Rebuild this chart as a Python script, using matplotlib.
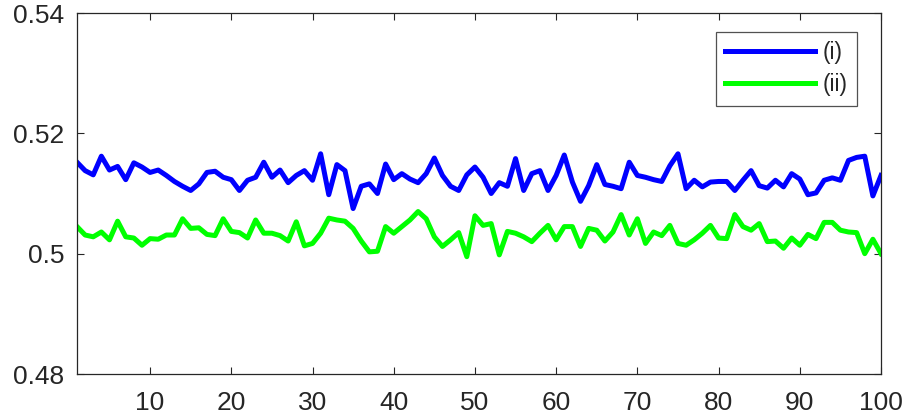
import matplotlib
matplotlib.use("Agg")
import matplotlib.pyplot as plt
import numpy as np

x = list(range(1, 101))
series_i = [
    0.5152, 0.5138, 0.5131, 0.5162, 0.5139, 0.5145, 0.5123, 0.5151, 0.5144, 0.5135,
    0.5139, 0.5130, 0.5120, 0.5112, 0.5105, 0.5116, 0.5135, 0.5137, 0.5127, 0.5123,
    0.5105, 0.5122, 0.5127, 0.5152, 0.5127, 0.5139, 0.5118, 0.5130, 0.5138, 0.5122,
    0.5166, 0.5098, 0.5148, 0.5138, 0.5075, 0.5112, 0.5116, 0.5100, 0.5149, 0.5123,
    0.5133, 0.5124, 0.5118, 0.5133, 0.5159, 0.5130, 0.5112, 0.5105, 0.5131, 0.5144,
    0.5127, 0.5100, 0.5118, 0.5112, 0.5158, 0.5105, 0.5133, 0.5138, 0.5105, 0.5130,
    0.5164, 0.5119, 0.5087, 0.5113, 0.5148, 0.5115, 0.5112, 0.5108, 0.5152, 0.5130,
    0.5127, 0.5123, 0.5120, 0.5146, 0.5166, 0.5108, 0.5122, 0.5111, 0.5119, 0.5120,
    0.5120, 0.5105, 0.5122, 0.5138, 0.5113, 0.5109, 0.5122, 0.5111, 0.5133, 0.5124,
    0.5098, 0.5101, 0.5122, 0.5126, 0.5122, 0.5155, 0.5160, 0.5162, 0.5096, 0.5130,
]
series_ii = [
    0.5045, 0.5031, 0.5028, 0.5036, 0.5023, 0.5054, 0.5028, 0.5026, 0.5014, 0.5025,
    0.5024, 0.5031, 0.5031, 0.5058, 0.5042, 0.5043, 0.5032, 0.5030, 0.5058, 0.5037,
    0.5035, 0.5026, 0.5056, 0.5034, 0.5034, 0.5030, 0.5021, 0.5053, 0.5013, 0.5017,
    0.5034, 0.5059, 0.5056, 0.5054, 0.5042, 0.5021, 0.5003, 0.5004, 0.5045, 0.5034,
    0.5045, 0.5056, 0.5070, 0.5058, 0.5028, 0.5012, 0.5023, 0.5035, 0.4995, 0.5063,
    0.5047, 0.5050, 0.4998, 0.5037, 0.5034, 0.5028, 0.5020, 0.5034, 0.5047, 0.5023,
    0.5045, 0.5045, 0.5012, 0.5042, 0.5039, 0.5021, 0.5036, 0.5065, 0.5031, 0.5058,
    0.5017, 0.5036, 0.5030, 0.5047, 0.5017, 0.5014, 0.5023, 0.5034, 0.5047, 0.5026,
    0.5025, 0.5065, 0.5045, 0.5039, 0.5050, 0.5020, 0.5021, 0.5009, 0.5026, 0.5014,
    0.5032, 0.5025, 0.5052, 0.5052, 0.5039, 0.5036, 0.5035, 0.5000, 0.5024, 0.5000,
]
labels = ["(i)", "(ii)"]
xticks = [10, 20, 30, 40, 50, 60, 70, 80, 90, 100]
yticks = [0.48, 0.50, 0.52, 0.54]
ytick_labels = ["0.48", "0.5", "0.52", "0.54"]

plt.rcParams['font.family'] = ['Liberation Sans', 'DejaVu Sans']
fig = plt.figure(figsize=(9.08, 4.18), dpi=100)
ax = fig.add_axes([77/908, 44/418, (881-77)/908, (374-13)/418])

ax.plot(x, series_i, color=(0, 0, 1), lw=3.6, label=labels[0])
ax.plot(x, series_ii, color=(0, 1, 0), lw=3.6, label=labels[1])

ax.set_xlim(1, 100)
ax.set_ylim(0.48, 0.54)
ax.set_xticks(xticks)
ax.set_xticklabels([str(t) for t in xticks])
ax.set_yticks(yticks)
ax.set_yticklabels(ytick_labels)

sc = (0.15, 0.15, 0.15)
for s in ax.spines.values():
    s.set_color(sc)
    s.set_linewidth(0.9)
ax.tick_params(direction='in', top=True, right=True, length=5, width=0.8,
               color=sc, labelcolor=sc, labelsize=19)
ax.tick_params(axis='x', pad=12)
ax.tick_params(axis='y', pad=9)

leg = ax.legend(loc='upper right', bbox_to_anchor=(857/908, (418-32)/418),
                bbox_transform=fig.transFigure, fontsize=16.5, handlelength=3.9,
                fancybox=False, frameon=True, borderaxespad=0, labelspacing=0.4,
                handletextpad=0.35, borderpad=0.4)
leg.get_frame().set_edgecolor(sc)
leg.get_frame().set_linewidth(0.9)
for t in leg.get_texts():
    t.set_color(sc)

fig.savefig("out.png", dpi=100)
